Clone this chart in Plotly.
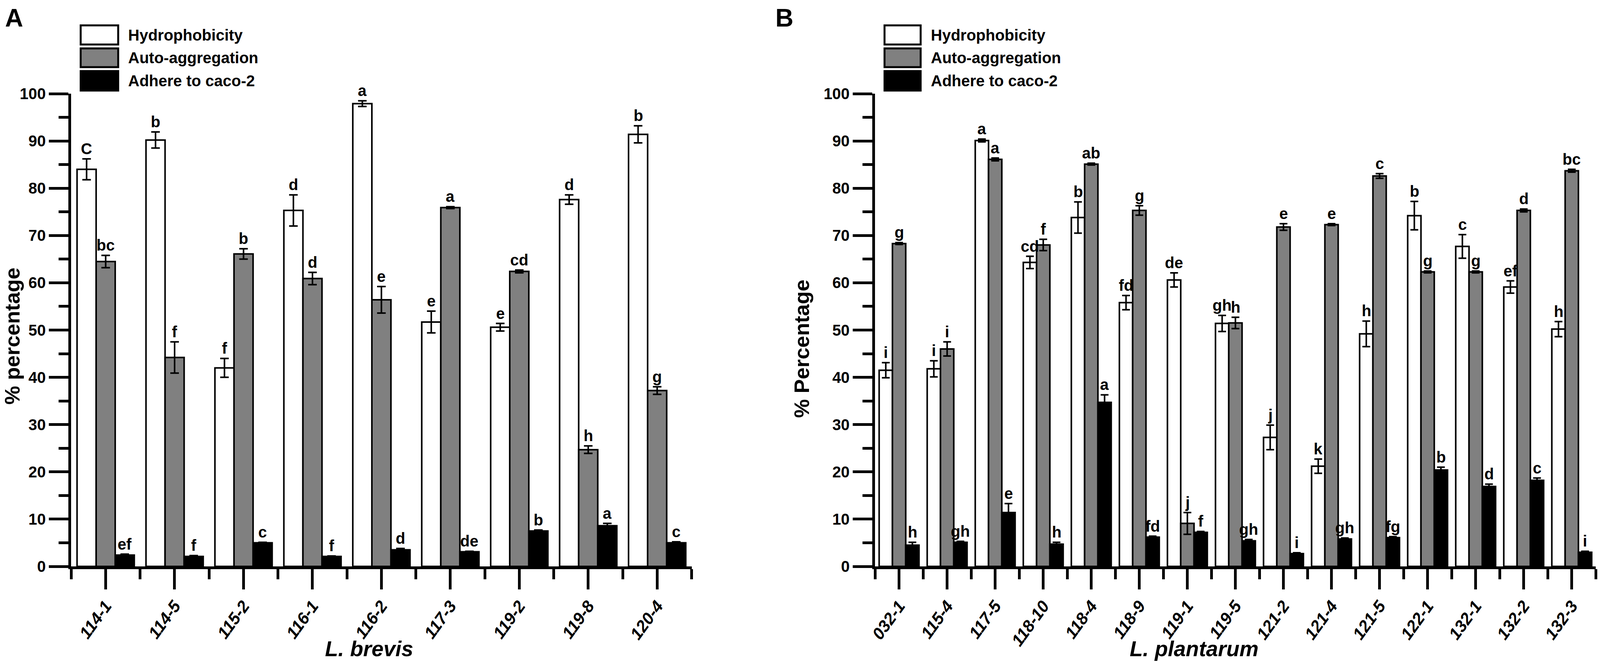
import plotly.graph_objects as go

W, H = 4562, 1701
FONT = "Liberation Sans, Arial, sans-serif"

series_names = ["Hydrophobicity", "Auto-aggregation", "Adhere to caco-2"]
series_colors = ["white", "#808080", "black"]

# panel A - L. brevis
categories_a = ["114-1", "114-5", "115-2", "116-1", "116-2", "117-3", "119-2", "119-8", "120-4"]
hydro_a = [84.0, 90.2, 42.0, 75.3, 97.9, 51.7, 50.6, 77.6, 91.4]
hydro_a_err = [2.2, 1.7, 2.0, 3.3, 0.6, 2.3, 0.8, 1.0, 1.8]
agg_a = [64.5, 44.2, 66.1, 60.9, 56.4, 75.9, 62.4, 24.7, 37.2]
agg_a_err = [1.3, 3.3, 1.1, 1.3, 2.8, 0.2, 0.3, 0.8, 0.8]
adh_a = [2.4, 2.1, 5.0, 2.1, 3.5, 3.1, 7.5, 8.6, 5.0]
adh_a_err = [0.2, 0.2, 0.1, 0.1, 0.3, 0.1, 0.2, 0.5, 0.2]
hydro_a_sig = ["C", "b", "f", "d", "a", "e", "e", "d", "b"]
agg_a_sig = ["bc", "f", "b", "d", "e", "a", "cd", "h", "g"]
adh_a_sig = ["ef", "f", "c", "f", "d", "de", "b", "a", "c"]

# panel B - L. plantarum
categories_b = ["032-1", "115-4", "117-5", "118-10", "118-4", "118-9", "119-1", "119-5",
                "121-2", "121-4", "121-5", "122-1", "132-1", "132-2", "132-3"]
hydro_b = [41.5, 41.8, 90.1, 64.3, 73.8, 55.8, 60.6, 51.4, 27.3, 21.2, 49.2, 74.2, 67.7, 59.1, 50.2]
hydro_b_err = [1.6, 1.7, 0.3, 1.3, 3.3, 1.5, 1.5, 1.7, 2.6, 1.5, 2.7, 3.0, 2.5, 1.3, 1.6]
agg_b = [68.3, 46.0, 86.1, 68.0, 85.1, 75.3, 9.1, 51.5, 71.8, 72.3, 82.6, 62.3, 62.3, 75.3, 83.7]
agg_b_err = [0.2, 1.5, 0.3, 1.2, 0.2, 1.0, 2.3, 1.2, 0.7, 0.2, 0.5, 0.2, 0.2, 0.3, 0.3]
adh_b = [4.5, 5.1, 11.4, 4.7, 34.7, 6.2, 7.2, 5.4, 2.7, 5.8, 6.1, 20.4, 16.9, 18.2, 3.0]
adh_b_err = [0.6, 0.2, 1.9, 0.4, 1.6, 0.2, 0.2, 0.3, 0.2, 0.2, 0.2, 0.6, 0.5, 0.5, 0.2]
hydro_b_sig = ["i", "i", "a", "cd", "b", "fd", "de", "gh", "j", "k", "h", "b", "c", "ef", "h"]
agg_b_sig = ["g", "i", "a", "f", "ab", "g", "j", "h", "e", "e", "c", "g", "g", "d", "bc"]
adh_b_sig = ["h", "gh", "e", "h", "a", "fd", "f", "gh", "i", "gh", "fg", "b", "d", "c", "i"]

BARGAP = 0.17

fig = go.Figure()
annotations = []
shapes = []


def px_x(x):
    # reference pixel -> paper fraction
    return x / W


def px_y(y):
    return 1 - y / H


def add_panel(cats, vals, errs, sigs, xa, ya, err_w):
    idx = list(range(len(cats)))
    slot = (1 - BARGAP) / 3
    for k in range(3):
        fig.add_trace(go.Bar(
            x=idx, y=vals[k], name=series_names[k], xaxis=xa, yaxis=ya,
            marker=dict(color=series_colors[k], line=dict(color="black", width=4)),
            error_y=dict(type="data", array=errs[k], color="black", thickness=4, width=err_w),
            showlegend=False,
        ))
        for i in idx:
            annotations.append(dict(
                x=i + (k - 1) * slot, y=vals[k][i] + errs[k][i], xref=xa, yref=ya,
                text=sigs[k][i], showarrow=False, yanchor="bottom", yshift=2,
                font=dict(family=FONT, size=40, color="black", weight="bold"),
            ))


add_panel(categories_a, [hydro_a, agg_a, adh_a], [hydro_a_err, agg_a_err, adh_a_err],
          [hydro_a_sig, agg_a_sig, adh_a_sig], "x", "y", 11)
add_panel(categories_b, [hydro_b, agg_b, adh_b], [hydro_b_err, agg_b_err, adh_b_err],
          [hydro_b_sig, agg_b_sig, adh_b_sig], "x2", "y2", 10)


def xaxis_style(cats, domain, anchor):
    n = len(cats)
    return dict(
        domain=domain, range=[-0.5, n - 0.5], anchor=anchor, showgrid=False, zeroline=False,
        showline=True, linewidth=7, linecolor="black",
        tickmode="array", tickvals=list(range(n)), ticktext=cats,
        ticks="outside", ticklen=52, tickwidth=7, tickcolor="black", tickangle=-54,
        tickfont=dict(family=FONT, size=43, color="black", weight="bold", style="italic"),
        minor=dict(tickmode="array", tickvals=[i - 0.5 for i in range(n + 1)],
                   ticks="outside", ticklen=26, tickwidth=7, tickcolor="black"),
        automargin=False, fixedrange=True,
    )


def yaxis_style(anchor):
    return dict(
        domain=[px_y(1451), px_y(240)], range=[0, 100], anchor=anchor,
        showgrid=False, zeroline=False, showline=True, linewidth=7, linecolor="black",
        tick0=0, dtick=10, ticks="outside", ticklen=50, tickwidth=7, tickcolor="black",
        tickfont=dict(family=FONT, size=40, color="black", weight="bold"),
        minor=dict(dtick=5, ticks="outside", ticklen=25, tickwidth=7, tickcolor="black"),
        automargin=False, fixedrange=True,
    )


# legends drawn as boxes + labels, one per panel
legend_rows = [(65, 114), (124, 172), (182, 232)]
for x0, x1, tx in [(230, 337, 363), (2522, 2625, 2652)]:
    for k, (y0, y1) in enumerate(legend_rows):
        shapes.append(dict(type="rect", xref="paper", yref="paper",
                           x0=px_x(x0), x1=px_x(x1), y0=px_y(y1), y1=px_y(y0),
                           fillcolor=series_colors[k], line=dict(color="black", width=5)))
        annotations.append(dict(x=px_x(tx), y=px_y((y0 + y1) / 2), xref="paper", yref="paper",
                                text=series_names[k], showarrow=False,
                                xanchor="left", yanchor="middle",
                                font=dict(family=FONT, size=40, color="black", weight="bold")))

# panel letters and axis titles
for txt, x in [("A", 40), ("B", 2236)]:
    annotations.append(dict(x=px_x(x), y=px_y(46), xref="paper", yref="paper", text=txt,
                            showarrow=False, xanchor="center", yanchor="middle",
                            font=dict(family=FONT, size=64, color="black", weight="bold")))

for txt, x, y in [("% percentage", 34, 861), ("% Percentage", 2286, 893)]:
    annotations.append(dict(x=px_x(x), y=px_y(y), xref="paper", yref="paper", text=txt,
                            showarrow=False, textangle=-90, xanchor="center", yanchor="middle",
                            font=dict(family=FONT, size=54, color="black", weight="bold")))

for txt, x in [("L. brevis", 1053), ("L. plantarum", 3405)]:
    annotations.append(dict(x=px_x(x), y=px_y(1662), xref="paper", yref="paper", text=txt,
                            showarrow=False, xanchor="center", yanchor="middle",
                            font=dict(family=FONT, size=55, color="black", weight="bold",
                                      style="italic")))

fig.update_layout(
    autosize=True,
    margin=dict(l=0, r=0, t=0, b=0, pad=0, autoexpand=False),
    paper_bgcolor="white", plot_bgcolor="white",
    barmode="group", bargap=BARGAP, bargroupgap=0,
    xaxis=xaxis_style(categories_a, [px_x(203), px_x(1972)], "y"),
    yaxis=yaxis_style("x"),
    xaxis2=xaxis_style(categories_b, [px_x(2495), px_x(4550)], "y2"),
    yaxis2=yaxis_style("x2"),
    annotations=annotations,
    shapes=shapes,
    showlegend=False,
)

# fill the window exactly, no page margin
post = (
    "var gd = document.getElementById('{plot_id}');"
    "document.body.style.margin = '0';"
    "document.body.style.overflow = 'hidden';"
    "Plotly.Plots.resize(gd);"
)

fig.write_html("out.html", default_width="100%", default_height="100vh",
               config={"responsive": True, "displayModeBar": False}, post_script=post)
